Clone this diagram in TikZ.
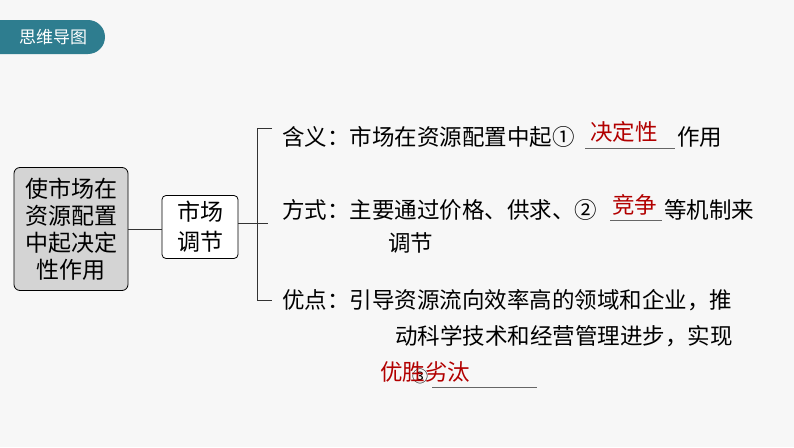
\documentclass[tikz,border=0pt]{standalone}
\usepackage{fontspec}
\setmainfont{Noto Sans CJK SC}
\begin{document}
\begin{tikzpicture}[x=1pt,y=-1pt,
 t/.style={anchor=west,inner sep=0pt,font=\fontsize{22.5}{24}\selectfont},
 r/.style={t,text=red!70!black},
 ln/.style={line width=0.8pt,black!80}]
\useasboundingbox[fill=black!3] (0,0) rectangle (794,447);
\begin{scope}
\clip (0,0) rectangle (794,447);
\fill[fill={rgb,255:red,46;green,125;blue,143},rounded corners=17pt] (-30,20) rectangle (105,54);
\end{scope}
\node[inner sep=0pt,text=white,font=\fontsize{17}{18}\selectfont] (tab) at (53,37) {思维导图};
\node[draw,fill=black!17,rounded corners=6pt,line width=0.8pt,minimum width=114pt,minimum height=123pt,align=center,font=\fontsize{23}{27}\selectfont,inner sep=0pt] (m) at (71,229) {使市场在\\资源配置\\中起决定\\性作用};
\node[draw,fill=white,rounded corners=4pt,line width=0.8pt,minimum width=76pt,minimum height=63pt,align=center,font=\fontsize{23}{30}\selectfont,inner sep=0pt] (s) at (200,227) {市场\\调节};
\draw[ln] (m.east |- 0,229) -- (s.west |- 0,229);
\draw[ln] (s.east |- 0,223) -- (268,223);
\draw[ln] (272,128) -- (257,128) -- (257,300) -- (272,300);
\node[t] (a) at (282,137) {含义：市场在资源配置中起①};
\draw[ln,black!60] (585,148) -- (675,148);
\node[r] (a1) at (590,132) {决定性};
\node[t] (a2) at (677,137) {作用};
\node[t] (b) at (282,210) {方式：主要通过价格、供求、②};
\draw[ln,black!60] (610,220) -- (662,220);
\node[r] (b1) at (612,205) {竞争};
\node[t] (b2) at (664,210) {等机制来};
\node[t] (b3) at (388,243) {调节};
\node[t] (c) at (282,300) {优点：引导资源流向效率高的领域和企业，推};
\node[t] (c2) at (395,336) {动科学技术和经营管理进步，实现};
\node[t,font=\fontsize{16}{18}\selectfont] (c3) at (412,376) {③};
\draw[ln,black!60] (432,387) -- (537,387);
\node[r] (c4) at (380,372) {优胜劣汰};
\end{tikzpicture}
\end{document}
